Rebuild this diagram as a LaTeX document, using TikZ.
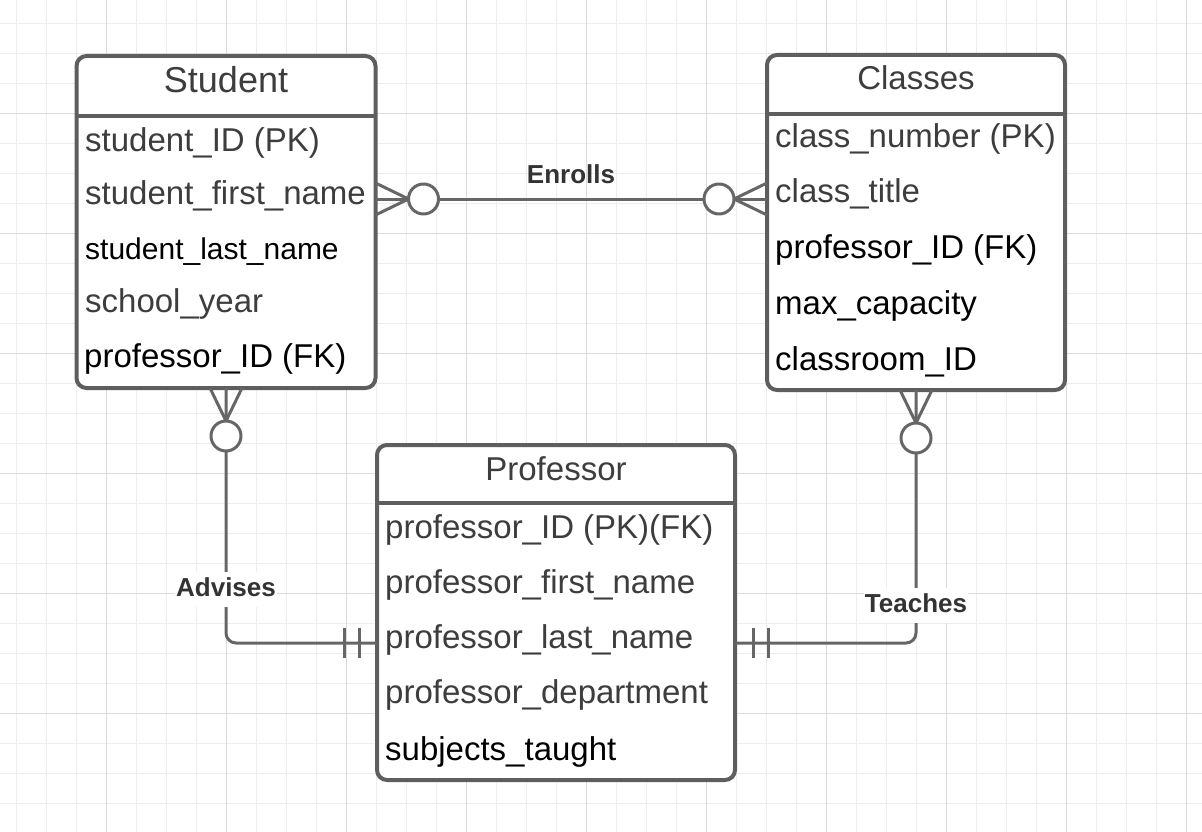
\documentclass[tikz,border=0pt]{standalone}
\usepackage{fontspec}
\setmainfont{Liberation Sans}
\usetikzlibrary{calc}
\definecolor{gridlight}{HTML}{EDEDED}
\definecolor{griddark}{HTML}{DCDCDC}
\definecolor{edge}{HTML}{5E5E5E}
\definecolor{wire}{HTML}{666666}
\definecolor{ink}{HTML}{3D3D3D}
\tikzset{
GRID/.style={draw=white!#1!black, line width=1pt},
GRID/.default = 93,
ENTITY/.style={draw=edge, fill=white, line width=4pt, rounded corners=10pt, inner sep=0pt, outer sep=0pt},
DIVIDER/.style={draw=edge, line width=4pt},
REL/.style={draw=wire, line width=3pt, line join=round},
TITLE/.style={text=ink, font=\fontsize{33}{40}\selectfont, anchor=base, inner sep=0pt},
ATTR/.style={text=#1, font=\fontsize{33}{40}\selectfont, anchor=base west, inner sep=0pt},
ATTR/.default = ink,
LABEL/.style={text=black!80, font=\bfseries\fontsize{26}{30}\selectfont, anchor=base, fill=white, text height=19pt, text depth=6pt, inner xsep=1pt, inner ysep=5pt},
CROW/.pic={\path[REL] (0,-16) -- (33,0) -- (0,16); \path[REL, fill=white] (48,0) circle[radius=15pt];},
BARS/.pic={\path[REL] (18,-15) -- (18,15) (33,-15) -- (33,15);},
}
\begin{document}
\begin{tikzpicture}
[x=1pt, y=-1pt]
	\useasboundingbox (0,0) rectangle (1202,832);
	\fill[white] (0,0) rectangle (1202,832);
	% grid
	\foreach \k in {0,...,39} \path[GRID] ({16.7+30*\k},0) -- ({16.7+30*\k},832);
	\foreach \k in {0,...,27} \path[GRID] (0,{23.3+30*\k}) -- (1202,{23.3+30*\k});
	\foreach \k in {0,...,9} \path[GRID=86] ({106.7+120*\k},0) -- ({106.7+120*\k},832);
	\foreach \k in {0,...,6} \path[GRID=86] (0,{113.3+120*\k}) -- (1202,{113.3+120*\k});

	% entities
	\node[ENTITY, minimum width=299pt, minimum height=332pt] (student) at (226,222) {};
	\node[ENTITY, minimum width=298pt, minimum height=335pt] (classes) at (916,222.5) {};
	\node[ENTITY, minimum width=358pt, minimum height=335pt] (professor) at (556,612.5) {};
	\path[DIVIDER] (student.west |- 0,116) -- (student.east |- 0,116);
	\path[DIVIDER] (classes.west |- 0,114) -- (classes.east |- 0,114);
	\path[DIVIDER] (professor.west |- 0,503) -- (professor.east |- 0,503);

	\node[TITLE, font=\fontsize{36}{42}\selectfont] (studentT) at (226,93) {Student};
	\node[ATTR] (s1) at (85,151) {student\_ID (PK)};
	\node[ATTR] (s2) at (85,204) {student\_first\_name};
	\node[ATTR=black, font=\fontsize{30}{36}\selectfont] (s3) at (85,259) {student\_last\_name};
	\node[ATTR] (s4) at (85,312) {school\_year};
	\node[ATTR=black] (s5) at (84,367) {professor\_ID (FK)};

	\node[TITLE] (classesT) at (916,90) {Classes};
	\node[ATTR] (c1) at (775,147) {class\_number (PK)};
	\node[ATTR] (c2) at (775,202) {class\_title};
	\node[ATTR=black] (c3) at (775,258) {professor\_ID (FK)};
	\node[ATTR=black] (c4) at (775,314) {max\_capacity};
	\node[ATTR=black] (c5) at (775,370) {classroom\_ID};

	\node[TITLE] (professorT) at (556,480) {Professor};
	\node[ATTR] (p1) at (385,538) {professor\_ID (PK)(FK)};
	\node[ATTR] (p2) at (385,593) {professor\_first\_name};
	\node[ATTR] (p3) at (385,648) {professor\_last\_name};
	\node[ATTR] (p4) at (385,703) {professor\_department};
	\node[ATTR=black] (p5) at (385,760) {subjects\_taught};

	% relationships
	\path[REL] (student.east |- 0,199) -- (classes.west |- 0,199);
	\path (student.east |- 0,199) pic {CROW};
	\path (classes.west |- 0,199) pic[rotate=180] {CROW};
	\node[LABEL, fill=none] (enrolls) at (571,183) {Enrolls};

	\path[REL, rounded corners=10pt] (student.south) -- (student.south |- 0,643) -- (professor.west |- 0,643);
	\path (student.south) pic[rotate=-90] {CROW};
	\path (professor.west |- 0,643) pic[rotate=180] {BARS};
	\node[LABEL] (advises) at (226,596) {Advises};

	\path[REL, rounded corners=10pt] (classes.south) -- (classes.south |- 0,643) -- (professor.east |- 0,643);
	\path (classes.south) pic[rotate=-90] {CROW};
	\path (professor.east |- 0,643) pic {BARS};
	\node[LABEL] (teaches) at (916,612) {Teaches};
\end{tikzpicture}
\end{document}
